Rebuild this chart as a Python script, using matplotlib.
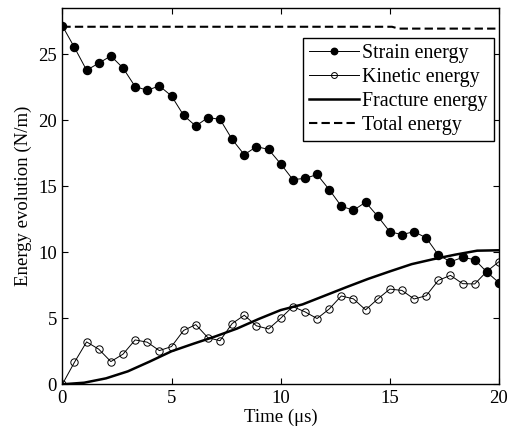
import numpy as np
import matplotlib
matplotlib.use('Agg')
import matplotlib.pyplot as plt

# time samples for the marked series (37 points over 0-20 us)
t_marked = np.linspace(0, 20, 37)

strain = [27.15, 25.51, 23.79, 24.32, 24.87, 23.96, 22.55, 22.27, 22.60, 21.84,
          20.37, 19.56, 20.20, 20.07, 18.55, 17.39, 18.00, 17.79, 16.70, 15.51,
          15.59, 15.89, 14.75, 13.49, 13.18, 13.79, 12.73, 11.55, 11.34, 11.56,
          11.09, 9.80, 9.28, 9.61, 9.44, 8.50, 7.69]

kinetic = [0.0, 1.67, 3.21, 2.66, 1.72, 2.28, 3.36, 3.19, 2.55, 2.86,
           4.08, 4.52, 3.53, 3.30, 4.60, 5.23, 4.43, 4.19, 5.00, 5.89,
           5.49, 4.98, 5.70, 6.69, 6.47, 5.64, 6.46, 7.21, 7.11, 6.46,
           6.71, 7.87, 8.25, 7.62, 7.60, 8.55, 9.29]

t_fracture = [0, 1, 2, 3, 4, 5, 6, 7, 8, 9, 10, 11, 12, 13, 14, 15, 16, 17, 18, 19, 20]
fracture = [0.0, 0.12, 0.45, 0.98, 1.72, 2.50, 3.07, 3.62, 4.22, 4.95, 5.62,
            6.05, 6.70, 7.35, 7.98, 8.55, 9.10, 9.48, 9.82, 10.12, 10.15]

t_total = [0, 15.1, 15.4, 20]
total = [27.08, 27.08, 26.94, 26.94]

plt.rcParams['font.family'] = ['Liberation Serif', 'DejaVu Serif']
plt.rcParams['font.size'] = 13.5

fig = plt.figure(figsize=(5.11, 4.33), dpi=100)
ax = fig.add_axes([0.122, 0.1125, 0.8545, 0.869])

ax.plot(t_marked, strain, '-', color='black', lw=0.7, marker='o',
        ms=5.8, mfc='black', mec='black', label='Strain energy')
ax.plot(t_marked, kinetic, '-', color='black', lw=0.7, marker='o',
        ms=5.3, mfc='none', mec='black', mew=0.7, label='Kinetic energy')
ax.plot(t_fracture, fracture, '-', color='black', lw=1.8, label='Fracture energy')
ax.plot(t_total, total, '--', color='black', lw=1.5, dashes=(4, 2),
        label='Total energy')

ax.set_xlim(0, 20)
ax.set_ylim(0, 28.5)
ax.set_xticks([0, 5, 10, 15, 20])
ax.set_yticks([0, 5, 10, 15, 20, 25])
ax.tick_params(direction='in', top=True, right=True, length=4, width=0.8, pad=4)
for s in ax.spines.values():
    s.set_linewidth(1.0)

ax.set_xlabel('Time (\u03bcs)', labelpad=1)
ax.set_ylabel('Energy evolution (N/m)', labelpad=4)

leg = ax.legend(loc='upper right', bbox_to_anchor=(0.997, 0.93), frameon=True,
                fancybox=False, edgecolor='black', framealpha=1, fontsize=14.4,
                handlelength=2.5, handletextpad=0.15, borderpad=0.3,
                labelspacing=0.25, borderaxespad=0.2, markerscale=0.8)
leg.get_frame().set_linewidth(1.0)

fig.savefig('out.png', dpi=100)
